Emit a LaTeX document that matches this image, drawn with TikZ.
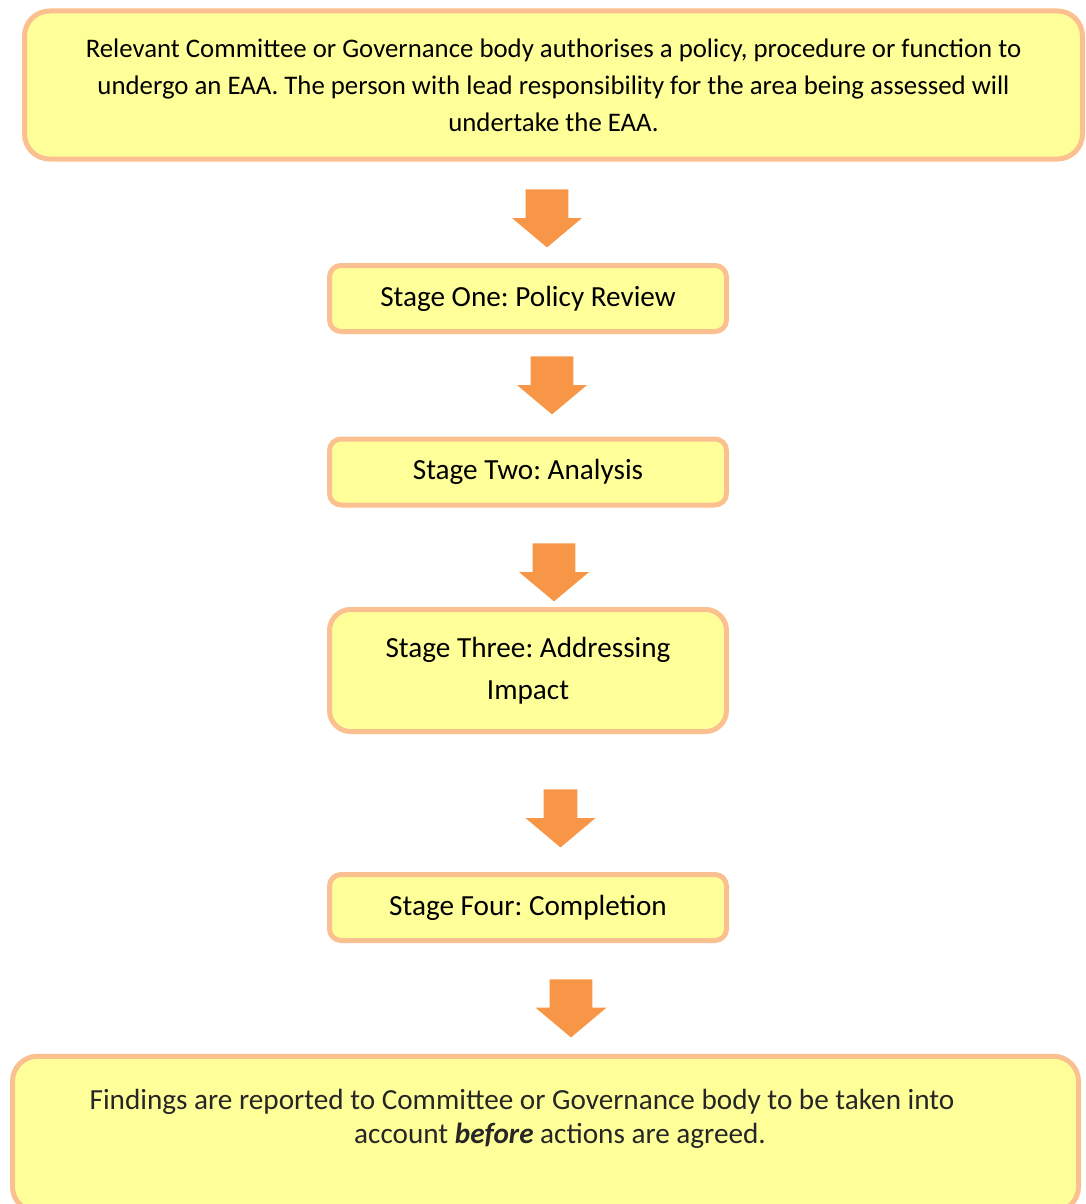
\documentclass[tikz,border=0pt]{standalone}
\usepackage{fontspec}
\setmainfont{Carlito}
\usepackage{xcolor}
\usepackage{tikz}
\usetikzlibrary{shapes.arrows}
\definecolor{eaaorange}{RGB}{247,150,70}
\definecolor{eaaborder}{RGB}{250,192,143}
\definecolor{eaafill}{RGB}{255,255,153}
\definecolor{eaatext}{RGB}{38,38,38}
\frenchspacing

\begin{document}
\begin{tikzpicture}[
  x=1pt, y=-1pt,
  font=\fontsize{14.6}{18.5}\selectfont,
  box/.style={draw=eaaborder, fill=eaafill, rectangle, rounded corners=5.8pt, line width=2.5pt,
              minimum width=198.5pt, minimum height=33pt, align=center, inner sep=0pt},
  wide/.style={box, rounded corners=12.5pt},
  blockarr/.style={single arrow, fill=eaaorange, draw=none, rotate=-90, anchor=tail,
                   inner xsep=0pt, inner ysep=10.5pt,
                   minimum height=29pt, minimum width=34.5pt, single arrow head extend=6.75pt,
                   single arrow tip angle=100, single arrow head indent=0pt},
]
\useasboundingbox (0,0) rectangle (543,602);

% ============ Authorisation (top) ============
\node[wide, minimum width=529pt, minimum height=74pt, font=\fontsize{13.4}{18.5}\selectfont]
  (auth) at (276.75,42.5)
  {Relevant Committee or Governance body authorises a policy, procedure or function to\\
   undergo an EAA. The person with lead responsibility for the area being assessed will\\
   undertake the EAA.};

% ============ Stages ============
\node[box] (stage1) at (264,149.25) {Stage One: Policy Review};
\node[box] (stage2) at (264,236) {Stage Two: Analysis};
\node[box, rounded corners=10.5pt, minimum height=61pt, font=\fontsize{14.6}{21}\selectfont]
  (stage3) at (264,335.25) {Stage Three: Addressing\\Impact};
\node[box] (stage4) at (264,453.75) {Stage Four: Completion};

% ============ Findings (bottom, runs off the page) ============
\node[wide, minimum width=533pt, minimum height=77.75pt] (findbox) at (272.75,567) {};
\node[align=center, text=eaatext, font=\fontsize{14.6}{17}\selectfont] (findtext) at (280,559.25)
  {Findings are reported to Committee or Governance body to be taken into\hspace*{38pt}\\
   account \textbf{\textit{before}} actions are agreed.};

% ===================== ARROWS =====================
\node[blockarr] (arr1) at (273.5,94.5) {};
\node[blockarr] (arr2) at (276,178) {};
\node[blockarr] (arr3) at (277,271.5) {};
\node[blockarr, inner ysep=8.25pt, single arrow head extend=9pt] (arr4) at (280.25,394.5) {};
\node[blockarr, minimum width=35pt, single arrow head extend=7pt] (arr5) at (285.5,489.5) {};

\end{tikzpicture}
\end{document}
